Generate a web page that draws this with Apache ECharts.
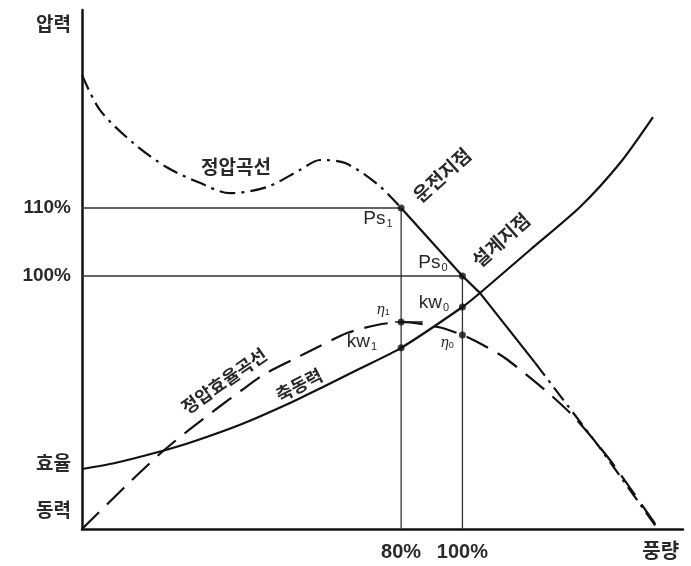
<!DOCTYPE html>
<html><head><meta charset="utf-8">
<script src="https://cdn.jsdelivr.net/npm/echarts@6/dist/echarts.min.js"></script>
<style>html,body{margin:0;padding:0;background:#fff}#c{width:691px;height:566px}</style>
</head><body><div id="c"></div>
<script>
// ---- tick labels (abstract 0..100 schematic units) ----
const xTickValues = [53.1, 63.3, 96.3];
const xTickLabels = ['80%', '100%', '풍량'];
const yTickValues = [96.9, 61.85, 48.75, 12.3, 3.3];
const yTickLabels = ['압력', '110%', '100%', '효율', '동력'];

// ---- static pressure curve (정압곡선) ----
const pressureRising = [[0,87.5],[3.0,80.7],[8.5,74.4],[14.1,69.7],[19.6,66.7],[24.6,64.7],[30.8,65.9],[36.3,69.2],[39.6,71.1],[43.8,70.5],[49.3,66.3],[53.1,61.85]];
const pressureOperating = [[53.1,61.85],[63.3,48.75],[66.2,45.5],[75.4,32.0]];
const pressureTail = [[75.4,32.0],[86.2,15.6],[95.8,0]];

// ---- shaft power curve (축동력) ----
const powerCurve = [[0,11.56],[5.49,12.72],[13.31,15.03],[18.3,16.76],[26.62,20.23],[34.61,24.28],[40.1,27.36],[45.76,30.64],[53.1,34.9],[63.3,42.77],[66.22,45.47],[74.54,53.76],[82.86,62.04],[89.52,70.52],[95.01,79.38]];

// ---- static efficiency curve (정압효율곡선) ----
const efficiencyCurve = [[0,0],[8.32,9.44],[13.31,14.84],[17.8,19.08],[22.13,22.93],[26.62,26.78],[30.12,29.67],[34.94,32.56],[39.27,35.07],[44.09,37.76],[49.08,39.31],[53.1,39.88],[59.23,38.92],[63.3,37.38],[66.72,35.45],[70.38,32.95],[77.04,26.78],[82.03,21.39],[87.85,13.29],[95.84,0.19]];

// ---- operating / design points ----
const operatingPoint = [53.1, 61.85];   // Ps1
const designPoint = [63.3, 48.75];      // Ps0
const powerPoints = [[53.1,34.9],[63.3,42.77]];      // kw1, kw0
const efficiencyPoints = [[53.1,39.88],[63.3,37.38]]; // η1, η0
const eta1Tick = [[52.1,39.88],[56.7,39.88]];

const chart = echarts.init(document.getElementById('c'));
const ink = '#111';
const guide = (p) => [[0, p[1]], p, [p[0], 0]];
const lineS = (data, type, width, smooth, color) => ({
  type: 'line', data, symbol: 'none', smooth: smooth, silent: true,
  lineStyle: { color: color || ink, width: width, type: type }, z: 3
});
const txt = (x, y, text, rot, size, extra) => Object.assign({
  type: 'text', x, y, rotation: (rot || 0) * Math.PI / 180, z: 10,
  style: Object.assign({ text, fill: '#2a2a2a', fontSize: size || 19, fontWeight: 'bold',
    fontFamily: '"Noto Sans CJK KR", "Liberation Sans", sans-serif', align: 'center', verticalAlign: 'middle' }, extra || {})
});
const sub = (main, s) => ({
  text: '{a|' + main + '}{b|' + s + '}',
  rich: { a: { fontSize: 19, fontFamily: '"Liberation Sans", Arial, sans-serif', fill: '#2a2a2a' },
          b: { fontSize: 11, fontFamily: '"Liberation Sans", Arial, sans-serif', padding: [9, 0, 0, 1], fill: '#2a2a2a' } }
});
const eta = (s) => ({ text: '{a|η}{b|' + s + '}', rich: {
  a: { fontSize: 14, fontStyle: 'italic', fontFamily: '"DejaVu Serif", serif', fill: '#2a2a2a' },
  b: { fontSize: 9, padding: [6, 0, 0, 0], fill: '#2a2a2a' } } });

chart.setOption({
  animation: false,
  backgroundColor: '#fff',
  grid: { left: 82, right: 8, top: 10, bottom: 37, containLabel: false },
  xAxis: {
    type: 'value', min: 0, max: 100,
    axisLine: { show: true, lineStyle: { color: ink, width: 2.5 } },
    axisTick: { show: false }, splitLine: { show: false },
    axisLabel: {
      customValues: xTickValues, margin: 13, color: '#2a2a2a', fontSize: 20, fontWeight: 'bold',
      fontFamily: '"Liberation Sans", "Noto Sans CJK KR", sans-serif',
      formatter: (v) => { const i = xTickValues.findIndex(t => Math.abs(t - v) < 1e-6); return i >= 0 ? xTickLabels[i] : ''; }
    }
  },
  yAxis: {
    type: 'value', min: 0, max: 100,
    axisLine: { show: true, lineStyle: { color: ink, width: 2.5 } },
    axisTick: { show: false }, splitLine: { show: false },
    axisLabel: {
      customValues: yTickValues, margin: 11, color: '#2a2a2a', fontSize: 19, fontWeight: 'bold',
      fontFamily: '"Liberation Sans", "Noto Sans CJK KR", sans-serif',
      formatter: (v) => { const i = yTickValues.findIndex(t => Math.abs(t - v) < 1e-6); return i >= 0 ? yTickLabels[i] : ''; }
    }
  },
  series: [
    lineS(guide(operatingPoint), 'solid', 1.3, false, '#333'),
    lineS(guide(designPoint), 'solid', 1.3, false, '#333'),
    lineS(pressureRising, [16, 6, 3, 6], 2.2, 0.3),
    lineS(pressureOperating, 'solid', 2.2, false),
    lineS(pressureTail, [16, 6, 3, 6], 2.2, false),
    lineS(powerCurve, 'solid', 2.2, 0.25),
    lineS(efficiencyCurve, [24, 11], 2.2, 0.25),
    lineS(eta1Tick, 'solid', 1.5, false),
    { type: 'scatter', data: [operatingPoint, designPoint].concat(powerPoints, efficiencyPoints),
      symbolSize: 7, itemStyle: { color: ink }, z: 5, silent: true }
  ],
  graphic: [
    txt(236, 167, '정압곡선', 0, 19),
    txt(442, 175, '운전지점', 42, 19),
    txt(501, 240, '설계지점', 42, 19),
    txt(224, 381, '정압효율곡선', 35, 18),
    txt(299, 385, '축동력', 27, 18),
    txt(378, 219, '', 0, 19, sub('Ps', '1')),
    txt(433, 263, '', 0, 19, sub('Ps', '0')),
    txt(434, 303, '', 0, 19, sub('kw', '0')),
    txt(362, 342, '', 0, 19, sub('kw', '1')),
    txt(383, 310, '', 0, 13, eta('1')),
    txt(447, 343, '', 0, 13, eta('0'))
  ]
});
</script></body></html>
